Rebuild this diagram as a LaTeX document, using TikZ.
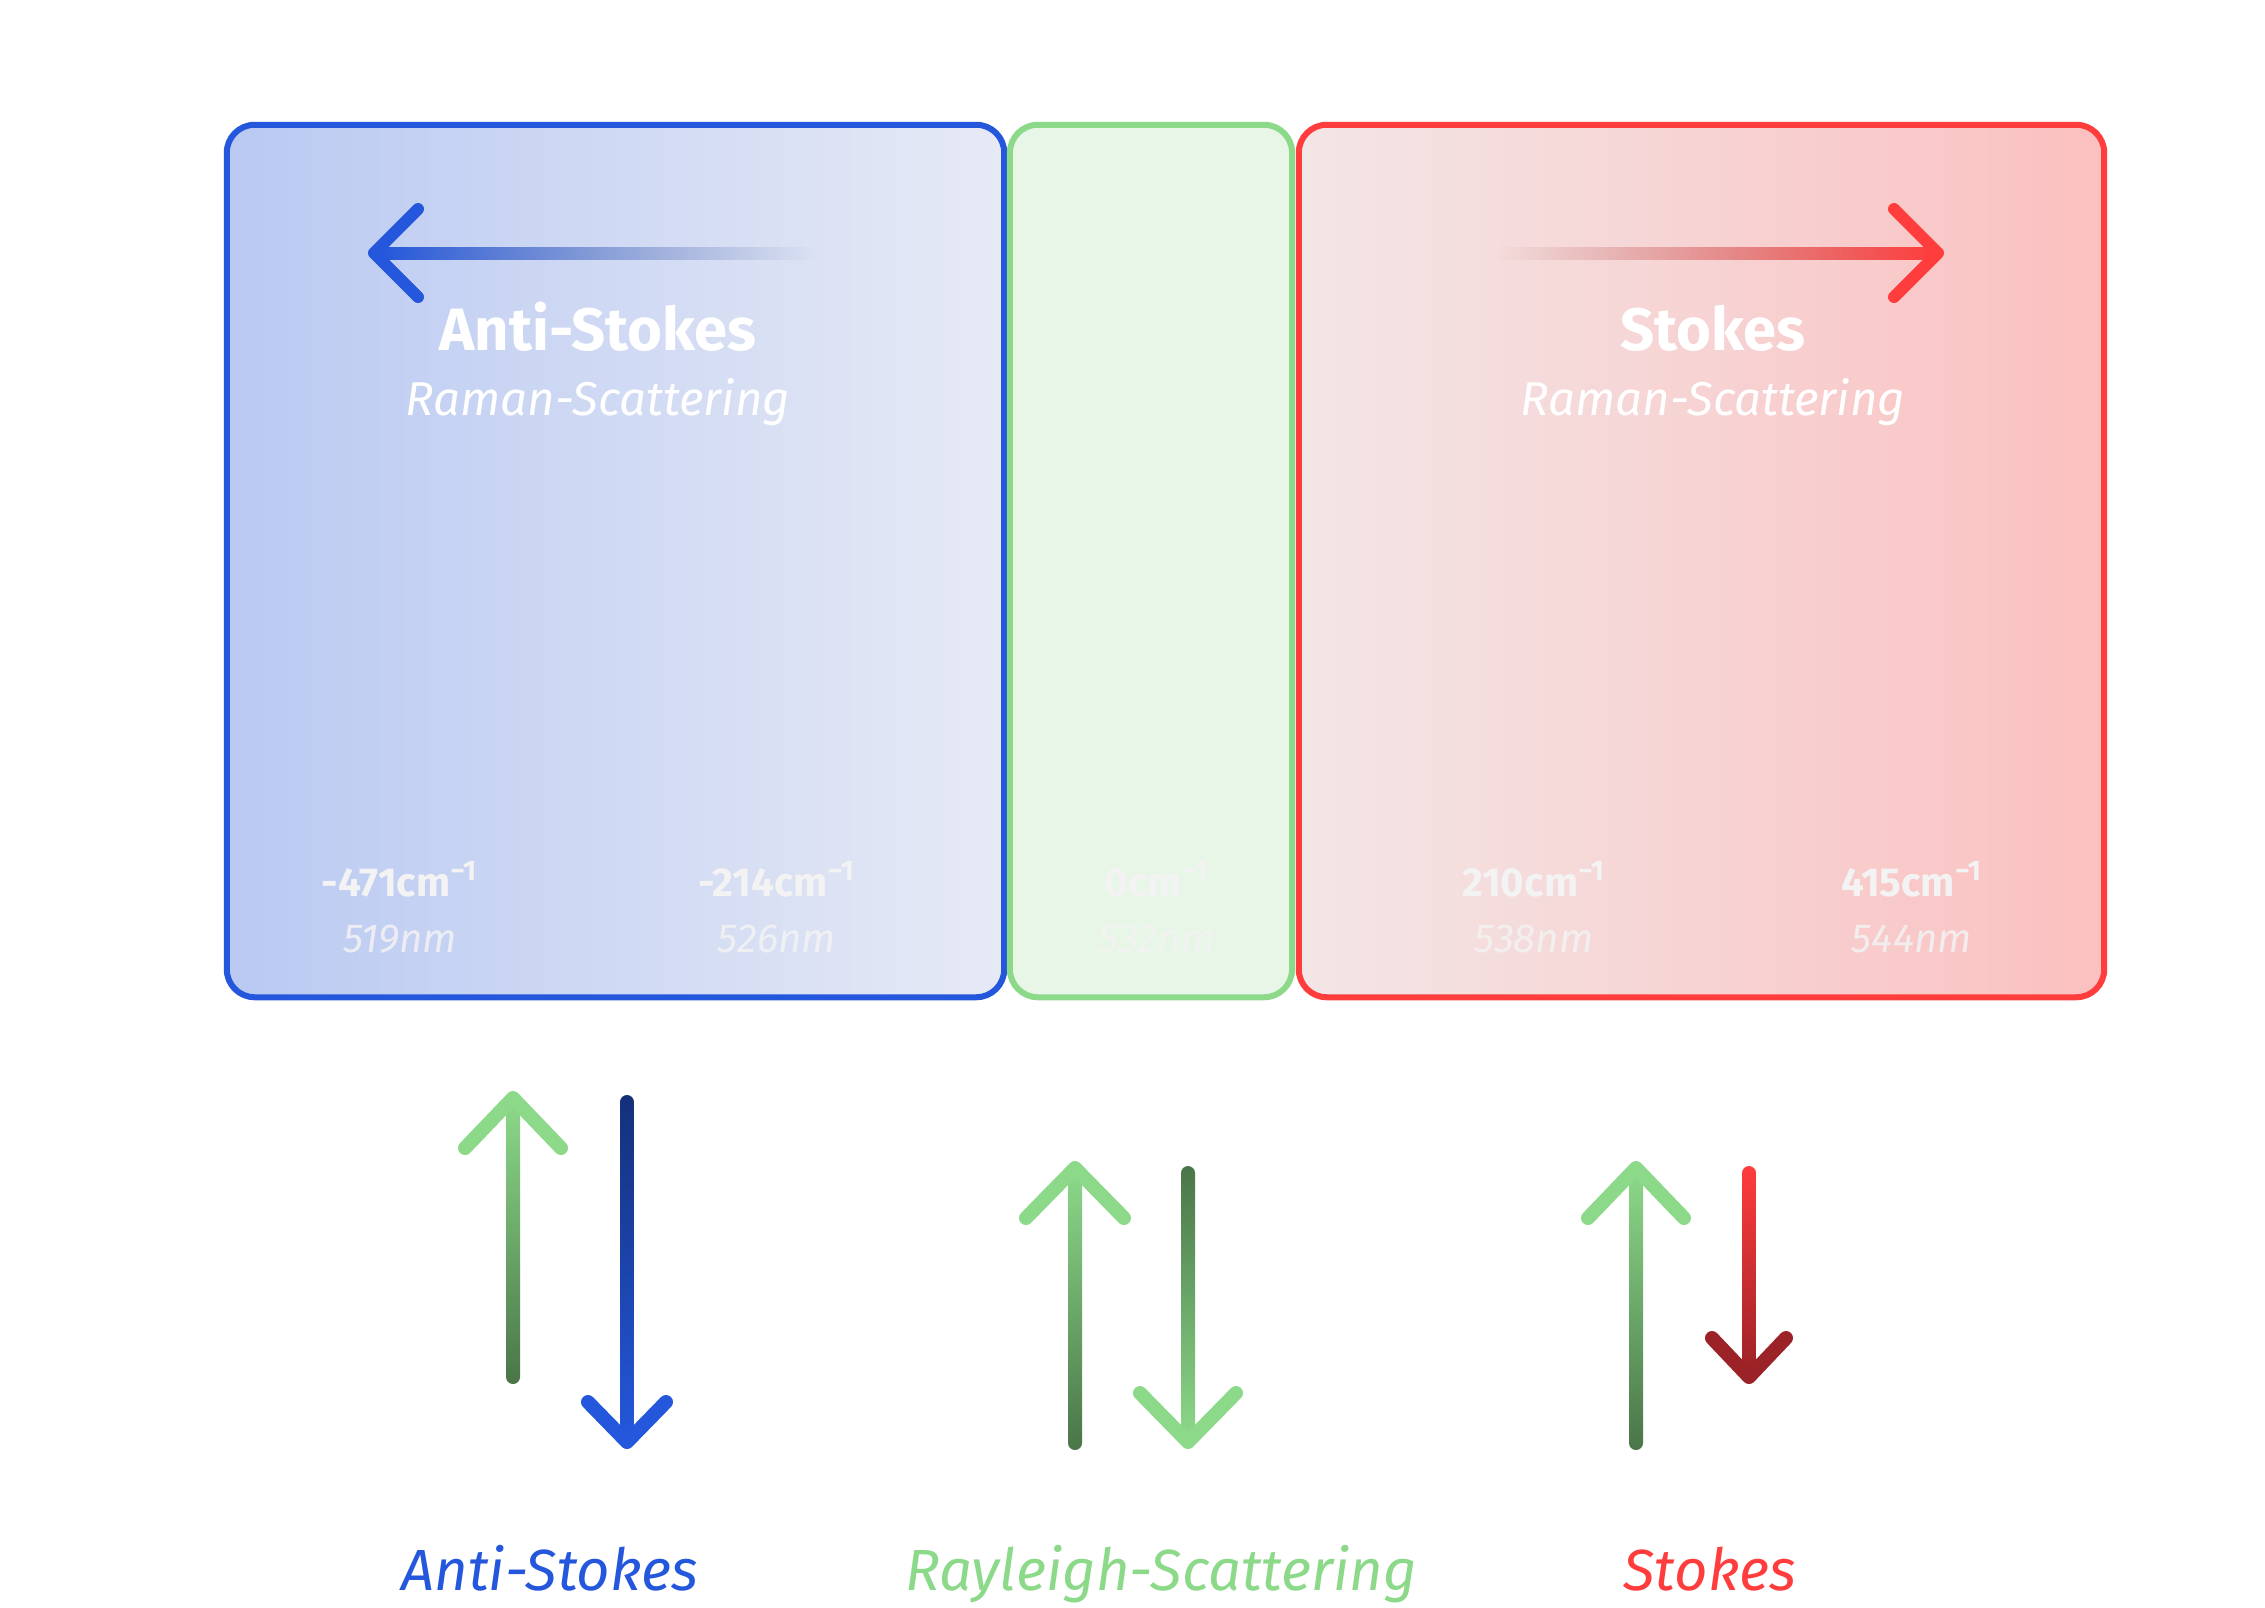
\documentclass[tikz,border=0pt]{standalone}
\usepackage{fontspec}
\setmainfont{Fira Sans}
\usetikzlibrary{fadings}

\definecolor{asblue}{HTML}{2457DC}
\definecolor{asbluel}{HTML}{B9C9F2}
\definecolor{asbluer}{HTML}{E7EAF5}
\definecolor{asnavy}{HTML}{14307A}
\definecolor{asgrey}{HTML}{5A6C9E}
\definecolor{raygreen}{HTML}{8CD98A}
\definecolor{raygreenf}{HTML}{E8F6E8}
\definecolor{raydark}{HTML}{4A7548}
\definecolor{stred}{HTML}{FF3D3D}
\definecolor{stredl}{HTML}{F3E6E6}
\definecolor{stredr}{HTML}{FBC0C0}
\definecolor{stdark}{HTML}{9B2226}
\definecolor{stgrey}{HTML}{A85A5A}
\definecolor{faint}{HTML}{F3F3F3}

\tikzfading[name=shaft out east, left color=transparent!0, right color=transparent!100]
\tikzfading[name=shaft in east, left color=transparent!100, right color=transparent!0]

\begin{document}
\begin{tikzpicture}[x=0.01cm,y=-0.01cm,
  box/.style={draw,line width=0.06cm,rounded corners=0.28cm,inner sep=0pt,minimum height=8.72cm},
  boxtitle/.style={text=white,font=\bfseries\fontsize{17pt}{20pt}\selectfont,anchor=base},
  subtitle/.style={text=white,font=\itshape\fontsize{13.5pt}{16pt}\selectfont,anchor=base},
  wavenum/.style={text=faint,font=\bfseries\fontsize{11.5pt}{13pt}\selectfont,anchor=base},
  wavelen/.style={text=faint,text opacity=0.85,font=\itshape\fontsize{11.5pt}{13pt}\selectfont,anchor=base},
  caption/.style={font=\itshape\fontsize{16.5pt}{19pt}\selectfont,anchor=base},
  chevron/.style={line width=0.14cm,line cap=round,line join=round},
  shaft/.style={rounded corners=0.07cm}]

  \useasboundingbox (0,0) rectangle (2265,1608);
  \fill[white] (0,0) rectangle (2265,1608);

  % the three bands
  \node[box,draw=asblue,left color=asbluel,right color=asbluer,minimum width=7.77cm] (asbox) at (615.5,561) {};
  \node[box,draw=raygreen,fill=raygreenf,minimum width=2.82cm] (raybox) at (1151,561) {};
  \node[box,draw=stred,left color=stredl,right color=stredr,minimum width=8.05cm] (stbox) at (1701.5,561) {};

  % direction arrows
  \shade[left color=asblue,right color=asgrey,path fading=shaft out east] (380,247) rectangle (816,259);
  \draw[chevron,line width=0.12cm,asblue] (418,209) -- (374,253) -- (418,297);
  \shade[left color=stgrey,right color=stred,path fading=shaft in east] (1496,247) rectangle (1932,259);
  \draw[chevron,line width=0.12cm,stred] (1894,209) -- (1938,253) -- (1894,297);

  \node[boxtitle] (astitle) at (598,350) {Anti-Stokes};
  \node[subtitle] (assub) at (598,415) {Raman-Scattering};
  \node[boxtitle] (sttitle) at (1713,350) {Stokes};
  \node[subtitle] (stsub) at (1713,415) {Raman-Scattering};

  % shifts and wavelengths
  \node[wavenum] (asa) at (400,896) {-471cm\textsuperscript{−1}};
  \node[wavelen] (asal) at (400,952) {519nm};
  \node[wavenum] (asb) at (777,896) {-214cm\textsuperscript{−1}};
  \node[wavelen] (asbl) at (777,952) {526nm};
  \node[wavenum] (ray) at (1157,896) {0cm\textsuperscript{−1}};
  \node[wavelen] (rayl) at (1157,952) {532nm};
  \node[wavenum] (sta) at (1534,896) {210cm\textsuperscript{−1}};
  \node[wavelen] (stal) at (1534,952) {538nm};
  \node[wavenum] (stb) at (1912,896) {415cm\textsuperscript{−1}};
  \node[wavelen] (stbl) at (1912,952) {544nm};

  % anti-stokes pair
  \shade[shaft,top color=raygreen,bottom color=raydark] (506,1100) rectangle (520,1384);
  \draw[chevron,raygreen] (465,1148) -- (513,1098) -- (561,1148);
  \shade[shaft,top color=asnavy,bottom color=asblue] (620,1095) rectangle (634,1438);
  \draw[chevron,asblue] (588,1402) -- (627,1442) -- (666,1402);

  % rayleigh pair
  \shade[shaft,top color=raygreen,bottom color=raydark] (1068,1170) rectangle (1082,1450);
  \draw[chevron,raygreen] (1026,1218) -- (1075,1168) -- (1124,1218);
  \shade[shaft,top color=raydark,bottom color=raygreen] (1181,1166) rectangle (1195,1438);
  \draw[chevron,raygreen] (1140,1393) -- (1188,1442) -- (1236,1393);

  % stokes pair
  \shade[shaft,top color=raygreen,bottom color=raydark] (1629,1170) rectangle (1643,1450);
  \draw[chevron,raygreen] (1588,1218) -- (1636,1168) -- (1684,1218);
  \shade[shaft,top color=stred,bottom color=stdark] (1742,1166) rectangle (1756,1374);
  \draw[chevron,stdark] (1712,1338) -- (1749,1377) -- (1786,1338);

  \node[caption,text=asblue] (ascap) at (550,1590) {Anti-Stokes};
  \node[caption,text=raygreen] (raycap) at (1161,1590) {Rayleigh-Scattering};
  \node[caption,text=stred] (stcap) at (1710,1590) {Stokes};
\end{tikzpicture}
\end{document}
